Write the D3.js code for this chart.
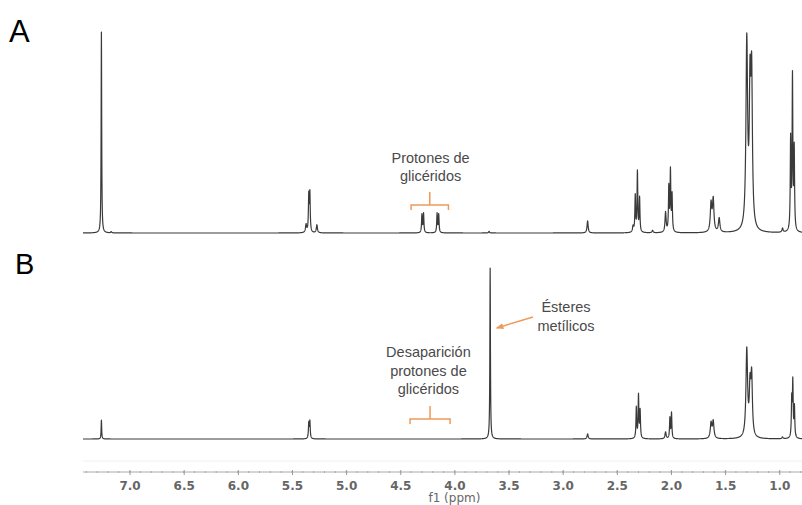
<!DOCTYPE html>
<html>
<head>
<meta charset="utf-8">
<script src="https://cdn.jsdelivr.net/npm/d3@7"></script>
<style>
  body { margin: 0; background: #fff; }
  svg { display: block; }
</style>
</head>
<body>
<div id="chart"></div>
<script>
// peaks: [ppm, relative height (tallest = 100), half width in ppm]
var peaksA = [
  [7.26, 100, 0.003], [7.17, 0.6, 0.005],
  [5.37, 4, 0.006], [5.345, 18, 0.004], [5.335, 19, 0.004], [5.27, 4, 0.006],
  [4.30, 9, 0.004], [4.285, 9.5, 0.004], [4.16, 9.5, 0.004], [4.145, 9, 0.004],
  [3.68, 0.8, 0.005],
  [2.77, 6, 0.006],
  [2.35, 3, 0.006], [2.33, 18, 0.004], [2.31, 30, 0.004], [2.29, 17, 0.004],
  [2.17, 1.2, 0.006],
  [2.05, 10, 0.006], [2.02, 22, 0.004], [2.005, 30, 0.004], [1.99, 18, 0.004],
  [1.63, 14, 0.008], [1.61, 16, 0.008], [1.555, 7, 0.008],
  [1.30, 93, 0.009], [1.27, 65, 0.008], [1.255, 72, 0.008],
  [0.97, 2, 0.006],
  [0.895, 45, 0.004], [0.878, 76, 0.004], [0.862, 40, 0.004]
];

var peaksB = [
  [7.26, 11, 0.003],
  [5.345, 9, 0.004], [5.335, 10, 0.004],
  [3.67, 100, 0.003],
  [2.77, 3, 0.006],
  [2.32, 18, 0.004], [2.30, 25, 0.004], [2.285, 16, 0.004],
  [2.05, 4, 0.006], [2.01, 12, 0.004], [1.995, 15, 0.004],
  [1.63, 9, 0.008], [1.61, 10, 0.008],
  [1.30, 51, 0.009], [1.27, 27, 0.008], [1.255, 34, 0.008],
  [0.97, 1, 0.006],
  [0.885, 22, 0.004], [0.875, 32, 0.004], [0.86, 18, 0.004]
];

var majorTicks = [7.0, 6.5, 6.0, 5.5, 5.0, 4.5, 4.0, 3.5, 3.0, 2.5, 2.0, 1.5, 1.0];
var axisTitle = "f1 (ppm)";
var panelLabels = ["A", "B"];
var labelA = ["Protones de", "glicéridos"];
var labelB = ["Desaparición", "protones de", "glicéridos"];
var labelEster = ["Ésteres", "metílicos"];

var width = 802, height = 505;

var svg = d3.select("#chart").append("svg")
  .attr("width", width)
  .attr("height", height);

var x = d3.scaleLinear().domain([7.43, 0.79]).range([83, 802]);
var yA = d3.scaleLinear().domain([0, 100]).range([233, 32]);
var yB = d3.scaleLinear().domain([0, 100]).range([439, 268]);

function spectrum(peaks) {
  var grid = d3.range(0.79, 7.431, 0.001).concat(peaks.map(function (p) { return p[0]; }));
  grid.sort(d3.descending);
  return grid.map(function (v) {
    var s = 0;
    peaks.forEach(function (p) {
      var t = (v - p[0]) / p[2];
      s += p[1] / (1 + t * t);
    });
    return [v, s];
  });
}

function drawPanel(peaks, y) {
  var line = d3.line()
    .x(function (d) { return x(d[0]); })
    .y(function (d) { return y(d[1]); });
  svg.append("path")
    .datum(spectrum(peaks))
    .attr("fill", "none")
    .attr("stroke", "#3a3a3a")
    .attr("stroke-width", 1.2)
    .attr("stroke-linejoin", "round")
    .attr("d", line);
}

drawPanel(peaksA, yA);
drawPanel(peaksB, yB);

// panel letters
svg.append("text").text(panelLabels[0])
  .attr("x", 9).attr("y", 42)
  .style("font-family", "Arial, 'Liberation Sans', sans-serif")
  .style("font-size", "31px").attr("fill", "#000");
svg.append("text").text(panelLabels[1])
  .attr("x", 15).attr("y", 274)
  .style("font-family", "Arial, 'Liberation Sans', sans-serif")
  .style("font-size", "29px").attr("fill", "#000");

// axis
svg.append("line")
  .attr("x1", 83).attr("x2", 802).attr("y1", 461).attr("y2", 461)
  .attr("stroke", "#f0f0f0").attr("stroke-width", 1);

var minor = d3.range(7.4, 0.79, -0.1).map(function (v) { return Math.round(v * 10) / 10; });
var gAxis = svg.append("g").attr("transform", "translate(0,472)");
gAxis.selectAll(".minor").data(minor).enter().append("line")
  .attr("x1", function (d) { return x(d); }).attr("x2", function (d) { return x(d); })
  .attr("y1", -1).attr("y2", 1)
  .attr("stroke", "#aaa");

var axis = d3.axisBottom(x)
  .tickValues(majorTicks)
  .tickFormat(d3.format(".1f"))
  .tickSize(3)
  .tickPadding(6);
gAxis.call(axis);
gAxis.select(".domain").attr("stroke", "#aaa").attr("d", "M83,0H802");
gAxis.selectAll(".tick line").attr("stroke", "#999").attr("y1", -2);
gAxis.selectAll(".tick text")
  .attr("fill", "#666")
  .style("font-family", "'DejaVu Sans', sans-serif")
  .style("font-size", "12px")
  .style("font-weight", "bold");

svg.append("text").text(axisTitle)
  .attr("x", x(4.0)).attr("y", 502)
  .attr("text-anchor", "middle")
  .attr("fill", "#666")
  .style("font-family", "'DejaVu Sans', sans-serif")
  .style("font-size", "12px");

// annotations
var orange = "#ee9a5a";
function note(lines, cx, y0, dy) {
  svg.append("g").selectAll("text").data(lines).enter().append("text")
    .text(function (d) { return d; })
    .attr("x", cx)
    .attr("y", function (d, i) { return y0 + i * dy; })
    .attr("text-anchor", "middle")
    .attr("fill", "#4a4a4a")
    .style("font-family", "Arial, 'Liberation Sans', sans-serif")
    .style("font-size", "14.5px");
}
function bracket(p1, p2, yb, ytop) {
  var x1 = x(p1), x2 = x(p2), xm = (x1 + x2) / 2;
  svg.append("path")
    .attr("d", "M" + x1 + "," + (yb + 5) + "V" + yb + "H" + x2 + "V" + (yb + 5) +
      "M" + xm + "," + yb + "V" + ytop)
    .attr("fill", "none")
    .attr("stroke", orange)
    .attr("stroke-width", 1.5);
}

note(labelA, x(4.22), 163, 18);
bracket(4.40, 4.055, 205, 192);

note(labelB, x(4.24), 357, 18.5);
bracket(4.41, 4.04, 419, 406);

note(labelEster, 566, 312, 19);
svg.append("defs").append("marker")
  .attr("id", "arr").attr("viewBox", "0 0 10 10")
  .attr("refX", 9).attr("refY", 5)
  .attr("markerWidth", 5).attr("markerHeight", 5)
  .attr("orient", "auto")
  .append("path").attr("d", "M0,1L10,5L0,9Z").attr("fill", orange);
svg.append("line")
  .attr("x1", 533).attr("y1", 317).attr("x2", x(3.61)).attr("y2", 328)
  .attr("stroke", orange).attr("stroke-width", 1.5)
  .attr("marker-end", "url(#arr)");
</script>
</body>
</html>
